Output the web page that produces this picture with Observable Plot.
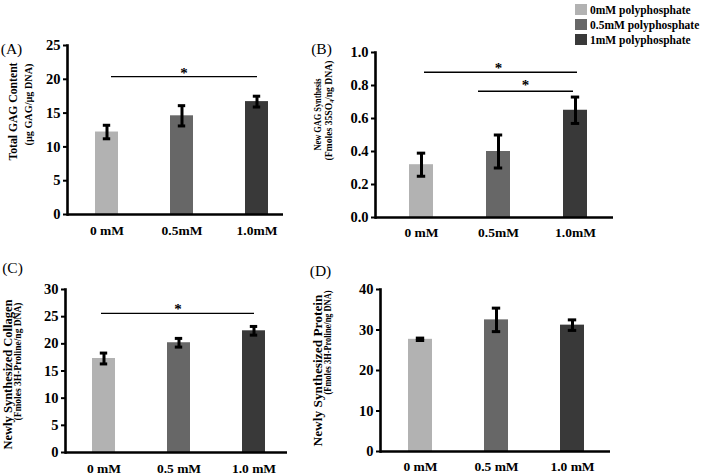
<!DOCTYPE html>
<html><head><meta charset="utf-8">
<script src="https://cdn.jsdelivr.net/npm/d3@7"></script>
<script src="https://cdn.jsdelivr.net/npm/@observablehq/plot@0.6"></script>
<style>
body{margin:0;background:#fff;}
#wrap{position:relative;width:709px;height:476px;overflow:hidden;font-family:"Liberation Serif","Times New Roman",serif;}
.panel{position:absolute;}
.legend{position:absolute;left:575px;top:2px;font-weight:bold;font-size:11.5px;color:#000;}
.legend .row{display:flex;align-items:center;height:15px;}
.legend .sw{width:12px;height:11px;margin-right:3px;}
</style></head><body><div id="wrap"></div>
<script>
// ---- data ----
const legendLabels = ["0mM polyphosphate", "0.5mM polyphosphate", "1mM polyphosphate"];
const barColors = ["#b2b2b2", "#676767", "#393939"];
const catsTop = ["0 mM", "0.5mM", "1.0mM"];
const catsBottom = ["0 mM", "0.5 mM", "1.0 mM"];

const gagTotal = [12.2, 14.6, 16.7];
const gagTotalErr = [1.0, 1.5, 0.8];
const gagNew = [0.32, 0.40, 0.65];
const gagNewErr = [0.07, 0.10, 0.08];
const collagen = [17.3, 20.2, 22.4];
const collagenErr = [1.0, 0.8, 0.8];
const protein = [27.7, 32.5, 31.2];
const proteinErr = [0.3, 2.9, 1.3];

const ticksA = [0, 5, 10, 15, 20, 25];
const ticksB = [0, 0.2, 0.4, 0.6, 0.8, 1.0];
const ticksC = [0, 5, 10, 15, 20, 25, 30];
const ticksD = [0, 10, 20, 30, 40];

const titlesA = ["Total GAG Content", "(µg GAG/µg DNA)"];
const titlesB = ["New GAG Synthesis", "(Fmoles 35SO₄/ng DNA)"];
const titlesC = ["Newly Synthesized Collagen", "(Fmoles 3H-Proline/ng DNA)"];
const titlesD = ["Newly Synthesized Protein", "(Fmoles 3H-Proline/ng DNA)"];

const sigA = [{from: "0 mM", to: "1.0mM", y: 20.4, star: "0.5mM"}];
const sigB = [{from: "0 mM", to: "1.0mM", y: 0.88, star: "0.5mM"}, {from: "0.5mM", to: "1.0mM", y: 0.765, star: "0.5mM"}];
const sigC = [{from: "0 mM", to: "1.0 mM", y: 25.6, star: "0.5 mM"}];

// ---- drawing ----
const wrap = document.getElementById("wrap");

function makePanel(cfg) {
  const rows = cfg.cats.map((c, i) => ({cat: c, v: cfg.values[i], e: cfg.errs[i]}));
  const [ml, mr, mt, mb] = cfg.margins;
  const step = (cfg.c3 - cfg.c1) / 2;
  const capInset = 7.8;
  const marks = [
    Plot.barY(rows, {x: "cat", y: "v", fill: "cat"}),
    Plot.ruleX(rows, {x: "cat", y1: d => d.v - d.e, y2: d => d.v + d.e, stroke: "#000", strokeWidth: 3}),
    Plot.tickY(rows, {x: "cat", y: d => d.v + d.e, stroke: "#000", strokeWidth: 3, insetLeft: capInset, insetRight: capInset}),
    Plot.tickY(rows, {x: "cat", y: d => d.v - d.e, stroke: "#000", strokeWidth: 3, insetLeft: capInset, insetRight: capInset}),
    Plot.axisY({ticks: cfg.ticks, tickFormat: cfg.fmt, tickSize: 4, tickPadding: 3, strokeWidth: 2, fontSize: 14.5, fontWeight: "bold", label: null}),
    Plot.axisX({tickSize: 0, tickPadding: cfg.xPad, fontSize: 13.5, fontWeight: "bold", label: null}),
    Plot.ruleY([cfg.domain[0]], {stroke: "#000", strokeWidth: 2.6}),
    Plot.frame({anchor: "left", stroke: "#000", strokeWidth: 2.6}),
    Plot.text([cfg.titles[0]], {text: d => d, frameAnchor: "left", rotate: -90, dx: cfg.t1[0], dy: cfg.t1[1], fontSize: cfg.t1[2], fontWeight: "bold", textAnchor: "middle", lineAnchor: "middle"}),
    Plot.text([cfg.titles[1]], {text: d => d, frameAnchor: "left", rotate: -90, dx: cfg.t2[0], dy: cfg.t2[1], fontSize: cfg.t2[2], fontWeight: "bold", textAnchor: "middle", lineAnchor: "middle"}),
    Plot.text([cfg.label], {text: d => d, frameAnchor: "top-left", dx: cfg.lab[0], dy: cfg.lab[1], fontSize: 15.5, fontWeight: "normal", textAnchor: "middle", lineAnchor: "middle"})
  ];
  (cfg.sig || []).forEach((s, i) => {
    const ins = cfg.sigInsets[i];
    marks.push(Plot.ruleY([s], {y: "y", x1: "from", x2: "to", stroke: "#000", strokeWidth: 1.4, insetLeft: ins[0], insetRight: ins[1]}));
    const st = cfg.stars[i];
    marks.push(Plot.text([s], {x: "star", y: "y", text: () => "*", dx: st[0], dy: st[1], fontSize: 15, fontWeight: "bold", lineAnchor: "bottom"}));
  });
  const svg = Plot.plot({
    width: cfg.w, height: cfg.h,
    marginLeft: ml, marginRight: mr, marginTop: mt, marginBottom: mb,
    style: {fontFamily: '"Liberation Serif", "Times New Roman", serif', fontSize: "13px", fontWeight: "bold", color: "#000", background: "transparent", overflow: "visible"},
    x: {type: "band", domain: cfg.cats, range: [cfg.c1 - step / 2, cfg.c3 + step / 2], paddingInner: 0.69, paddingOuter: 0.345, label: null},
    y: {domain: cfg.domain, label: null},
    color: {domain: cfg.cats, range: barColors},
    marks
  });
  // fit the rotated axis titles to the lengths they have in the figure
  d3.select(svg).selectAll("text").each(function () {
    const k = cfg.titles.indexOf(this.textContent);
    if (k >= 0) {
      d3.select(this).attr("textLength", cfg.titleLen[k]).attr("lengthAdjust", "spacingAndGlyphs");
    }
  });
  svg.classList.add("panel");
  svg.style.left = cfg.left + "px";
  svg.style.top = cfg.top + "px";
  svg.style.position = "absolute";
  wrap.appendChild(svg);
}

makePanel({
  left: 0, top: 0, w: 300, h: 238, margins: [67, 17, 45, 24], c1: 106, c3: 257, xPad: 11,
  cats: catsTop, values: gagTotal, errs: gagTotalErr, domain: [0, 25], ticks: ticksA, fmt: d3.format("d"),
  titles: titlesA, titleLen: [98, 82], t1: [-54.5, -18.5, 12.8], t2: [-39, -25.5, 11], label: "(A)", lab: [-56, 4],
  sig: sigA, sigInsets: [[16, 11]], stars: [[2, 1]]
});
makePanel({
  left: 300, top: 0, w: 409, h: 238, margins: [75, 96, 52, 21], c1: 120, c3: 275, xPad: 10,
  cats: catsTop, values: gagNew, errs: gagNewErr, domain: [0, 1], ticks: ticksB, fmt: d3.format(".1f"),
  titles: titlesB, titleLen: [72, 100], t1: [-58, -20.5, 10.5], t2: [-47, -24.5, 10.5], label: "(B)", lab: [-54, -3],
  sig: sigB, sigInsets: [[15, 10], [-8, 14]], stars: [[0, 1], [27, -1]]
});
makePanel({
  left: 0, top: 238, w: 300, h: 238, margins: [65, 13, 51, 24], c1: 103.5, c3: 254.5, xPad: 11,
  cats: catsBottom, values: collagen, errs: collagenErr, domain: [0, 30], ticks: ticksC, fmt: d3.format("d"),
  titles: titlesC, titleLen: [150, 118], t1: [-58, 3.5, 13], t2: [-47.5, -9.5, 10.5], label: "(C)", lab: [-53, -21],
  sig: sigC, sigInsets: [[9, 11]], stars: [[-1, 1]]
});
makePanel({
  left: 300, top: 238, w: 409, h: 238, margins: [80, 99, 51, 25], c1: 119, c3: 272, xPad: 10,
  cats: catsBottom, values: protein, errs: proteinErr, domain: [0, 40], ticks: ticksD, fmt: d3.format("d"),
  titles: titlesD, titleLen: [152, 104], t1: [-63, 0, 13], t2: [-53, -28, 10.5], label: "(D)", lab: [-60, -18]
});

// legend
const leg = document.createElement("div");
leg.className = "legend";
legendLabels.forEach((t, i) => {
  const r = document.createElement("div"); r.className = "row";
  const sw = document.createElement("div"); sw.className = "sw"; sw.style.background = barColors[i];
  const tx = document.createElement("span"); tx.textContent = t;
  r.appendChild(sw); r.appendChild(tx); leg.appendChild(r);
});
wrap.appendChild(leg);
</script>
</body></html>
